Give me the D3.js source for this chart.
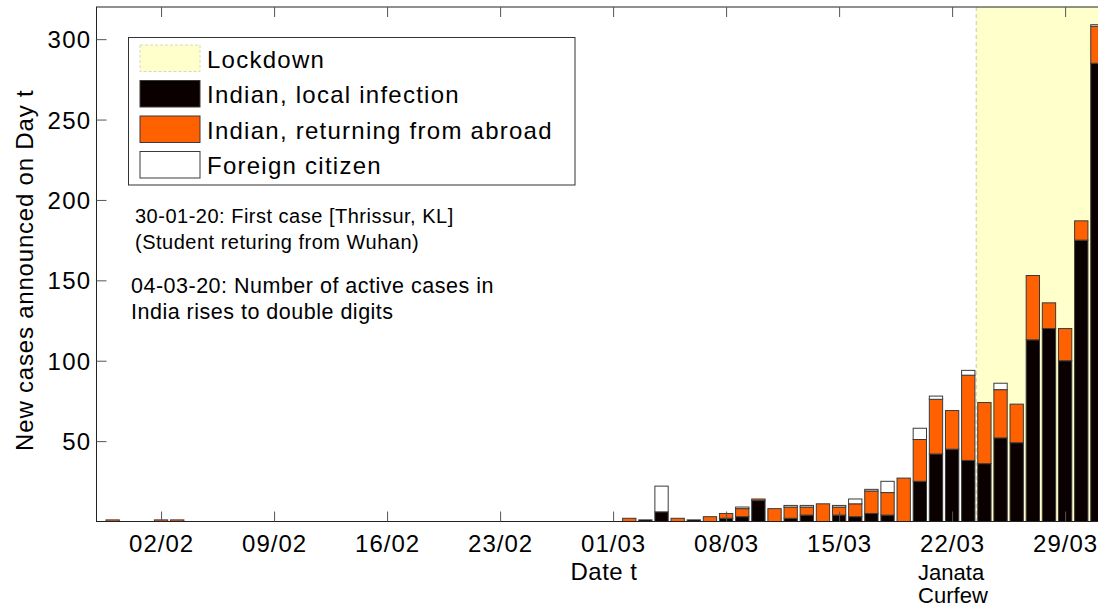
<!DOCTYPE html>
<html>
<head>
<meta charset="utf-8">
<script src="https://cdn.jsdelivr.net/npm/d3@7"></script>
<style>
  body { margin: 0; background: #fff; }
  text { font-family: "Liberation Sans", Arial, sans-serif; fill: #000; }
</style>
</head>
<body>
<div id="chart"></div>
<script>
// days with at least one announced case (DD/MM, 2020)
const days = ["30/01", "02/02", "03/02",
    "02/03", "03/03", "04/03", "05/03", "06/03", "07/03", "08/03", "09/03", "10/03",
    "11/03", "12/03", "13/03", "14/03", "15/03", "16/03", "17/03", "18/03", "19/03",
    "20/03", "21/03", "22/03", "23/03", "24/03", "25/03", "26/03", "27/03", "28/03",
    "29/03", "30/03", "31/03"];
const localCases   = [0, 0, 0,
    0, 1, 6, 0, 1, 0, 2, 3, 13,
    0, 2, 4, 0, 4, 3, 5, 4, 0,
    25, 42, 45, 38, 36, 52, 49, 113, 120,
    100, 175, 285];
const abroadCases  = [1, 1, 1,
    2, 0, 0, 2, 0, 3, 3, 5, 1,
    8, 7, 5, 11, 5, 8, 14, 14, 27,
    26, 34, 24, 53, 38, 30, 24, 40, 16,
    20, 12, 23];
const foreignCases = [0, 0, 0,
    0, 0, 16, 0, 0, 0, 0, 1, 0,
    0, 1, 1, 0, 1, 3, 1, 7, 0,
    7, 2, 0, 3, 0, 4, 0, 0, 0,
    0, 0, 1];

const tickDays = ["02/02", "09/02", "16/02", "23/02", "01/03", "08/03", "15/03", "22/03", "29/03"];
const yTicks = [50, 100, 150, 200, 250, 300];
const lockdownStart = "24/03";
const curfewDay = "22/03";

const seriesKeys = ["local", "abroad", "foreign"];
const seriesNames = ["Indian, local infection", "Indian, returning from abroad", "Foreign citizen"];
const seriesColors = ["#0b0000", "#ff6100", "#ffffff"];

const notes = [
    ["30-01-20: First case [Thrissur, KL]", "(Student returing from Wuhan)"],
    ["04-03-20: Number of active cases in", "India rises to double digits"]
];

const parseDay = d3.timeParse("%d/%m/%Y");
const toDate = function(s) { return parseDay(s + "/2020"); };

const width = 1098, height = 608;
const pLeft = 96.5, pTop = 7, pBottom = 521.5, pRight = 1129.7;

const svg = d3.select("#chart").append("svg")
    .attr("width", width)
    .attr("height", height);

const x = d3.scaleTime()
    .domain([toDate("29/01"), toDate("02/04")])
    .range([pLeft, pRight]);
const dayW = x(toDate("02/01")) - x(toDate("01/01"));
const barW = dayW * 0.825;

const y = d3.scaleLinear()
    .domain([0, 320])
    .range([pBottom, pTop]);

const rows = days.map(function(d, i) {
    return { day: d, local: localCases[i], abroad: abroadCases[i], foreign: foreignCases[i] };
});
const stacked = d3.stack().keys(seriesKeys)(rows);

// lockdown shading
const lx = x(toDate(lockdownStart)) - dayW / 2;
svg.append("rect")
    .attr("x", lx)
    .attr("y", pTop)
    .attr("width", pRight - lx)
    .attr("height", pBottom - pTop)
    .attr("fill", "#ffffcc");
svg.append("line")
    .attr("x1", lx).attr("x2", lx)
    .attr("y1", pTop).attr("y2", pBottom)
    .attr("stroke", "#d8d8c0")
    .attr("stroke-width", 1.5)
    .attr("stroke-dasharray", "4,3");

// stacked bars
svg.append("g").selectAll("g")
    .data(stacked)
    .enter()
    .append("g")
    .attr("fill", function(d, i) { return seriesColors[i]; })
    .selectAll("rect")
    .data(function(d) { return d.filter(function(p) { return p[1] > p[0]; }); })
    .enter()
    .append("rect")
    .attr("x", function(p) { return x(toDate(p.data.day)) - barW / 2; })
    .attr("y", function(p) { return y(p[1]); })
    .attr("width", barW)
    .attr("height", function(p) { return y(p[0]) - y(p[1]); })
    .attr("stroke", "#3a3a3a")
    .attr("stroke-width", 1);

// axes frame
svg.append("rect")
    .attr("x", pLeft).attr("y", pTop)
    .attr("width", pRight - pLeft).attr("height", pBottom - pTop)
    .attr("fill", "none")
    .attr("stroke", "#222")
    .attr("stroke-width", 1);

const tickDates = tickDays.map(toDate);
const xAxis = svg.append("g")
    .attr("transform", "translate(0," + pBottom + ")")
    .call(d3.axisBottom(x).tickValues(tickDates).tickFormat(d3.timeFormat("%d/%m"))
        .tickSizeInner(-10).tickSizeOuter(0).tickPadding(12));
xAxis.select(".domain").remove();
xAxis.selectAll("line").attr("stroke", "#555");
xAxis.selectAll("text")
    .attr("font-size", 24)
    .attr("letter-spacing", 1)
    .attr("dy", null)
    .attr("y", 30);

svg.append("g")
    .attr("transform", "translate(0," + pTop + ")")
    .call(d3.axisTop(x).tickValues(tickDates).tickFormat("").tickSizeInner(-10).tickSizeOuter(0))
    .call(function(g) { g.select(".domain").remove(); })
    .selectAll("line").attr("stroke", "#555");

const yAxis = svg.append("g")
    .attr("transform", "translate(" + pLeft + ",0)")
    .call(d3.axisLeft(y).tickValues(yTicks).tickSizeInner(-10).tickSizeOuter(0).tickPadding(5));
yAxis.select(".domain").remove();
yAxis.selectAll("line").attr("stroke", "#555");
yAxis.selectAll("text")
    .attr("font-size", 24)
    .attr("letter-spacing", 1.3)
    .attr("dy", "0.36em");

svg.append("text")
    .attr("x", 604)
    .attr("y", 580)
    .attr("text-anchor", "middle")
    .attr("font-size", 24)
    .attr("letter-spacing", 0.5)
    .text("Date t");

svg.append("text")
    .attr("transform", "translate(33," + ((pTop + pBottom) / 2 + 6) + ") rotate(-90)")
    .attr("text-anchor", "middle")
    .attr("font-size", 24)
    .attr("letter-spacing", 0.8)
    .text("New cases announced on Day t");

const cx = x(toDate(curfewDay)) - 34;
svg.append("text").attr("x", cx).attr("y", 580).attr("font-size", 22).text("Janata");
svg.append("text").attr("x", cx).attr("y", 603).attr("font-size", 22).text("Curfew");

// legend
const legend = svg.append("g");
legend.append("rect")
    .attr("x", 128.5).attr("y", 37.5)
    .attr("width", 446.5).attr("height", 147.5)
    .attr("fill", "#fff")
    .attr("stroke", "#333");
const legendItems = [{ name: "Lockdown", color: "#ffffcc", stroke: "#d8d8c0", dash: "3,2" }]
    .concat(seriesNames.map(function(n, i) {
        return { name: n, color: seriesColors[i], stroke: "#3a3a3a", dash: null };
    }));
const li = legend.selectAll(".item")
    .data(legendItems)
    .enter()
    .append("g")
    .attr("class", "item")
    .attr("transform", function(d, i) { return "translate(140," + (45 + i * 35.5) + ")"; });
li.append("rect")
    .attr("width", 60).attr("height", 26.5)
    .attr("fill", function(d) { return d.color; })
    .attr("stroke", function(d) { return d.stroke; })
    .attr("stroke-dasharray", function(d) { return d.dash; });
li.append("text")
    .attr("x", 67)
    .attr("y", 22.7)
    .attr("font-size", 24)
    .attr("letter-spacing", 1.25)
    .text(function(d) { return d.name; });

// annotations
const noteY = [223, 293];
const noteX = [135, 131];
const noteSize = [20, 21.5];
notes.forEach(function(lines, k) {
    svg.append("text")
        .attr("x", noteX[k])
        .attr("y", noteY[k])
        .attr("font-size", noteSize[k])
        .attr("letter-spacing", 0.5)
        .selectAll("tspan")
        .data(lines)
        .enter()
        .append("tspan")
        .attr("x", noteX[k])
        .attr("dy", function(d, i) { return i ? 25.5 : 0; })
        .text(function(d) { return d; });
});
</script>
</body>
</html>
